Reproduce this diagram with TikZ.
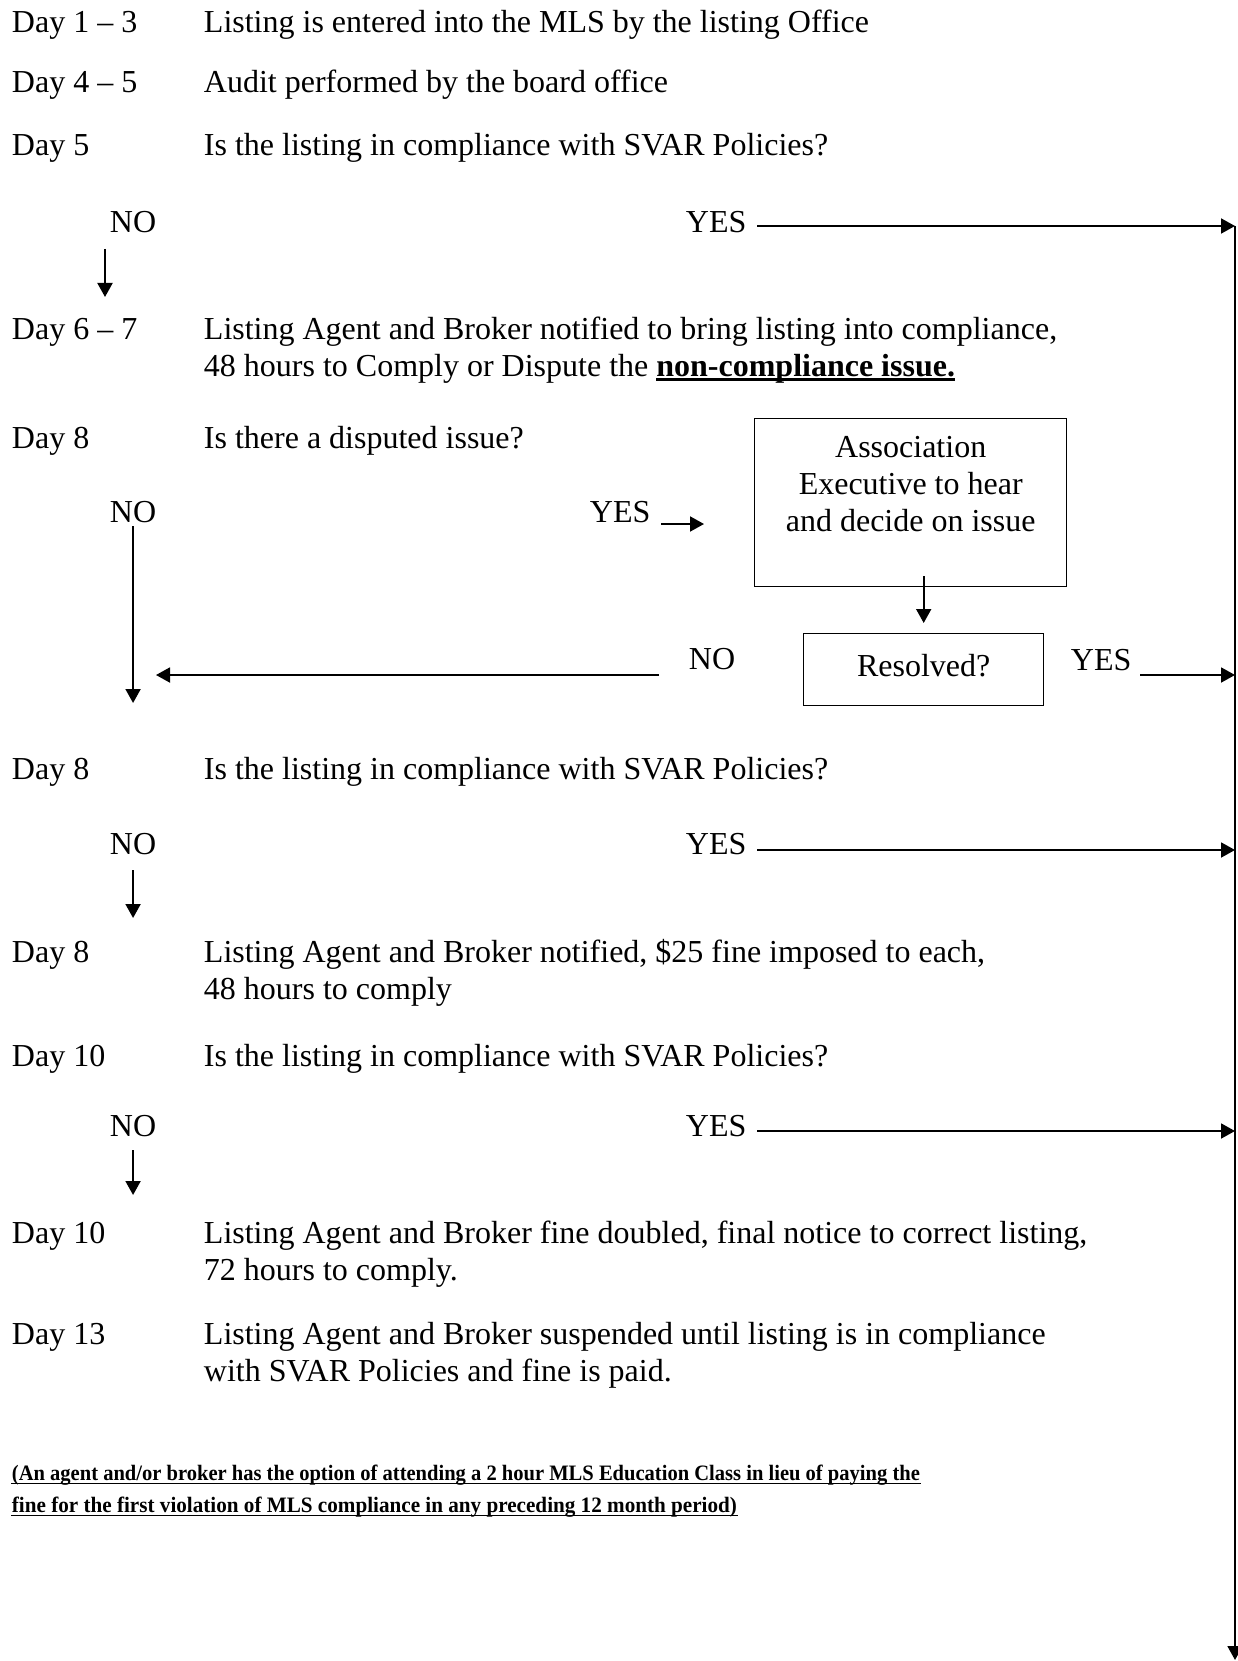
\documentclass[tikz,border=0pt]{standalone}
\usepackage{fontspec}
\setmainfont{Liberation Serif}
\usetikzlibrary{arrows.meta}

\newcommand{\ulbf}[1]{\setbox0\hbox{\bfseries #1}\rlap{\rule[-5pt]{\wd0}{2.6pt}}\box0}

\begin{document}
\begin{tikzpicture}[
        x=1pt, y=-1pt,
        line width=1.9pt,
        font=\fontsize{32}{37}\selectfont
    ]
    \tikzset{
        dayl/.style = {anchor=base west, inner sep=0},
        stept/.style = {anchor=base west, inner sep=0, align=left},
        steptwo/.style = {stept, yshift=-37pt},
        choice/.style = {anchor=base west, inner sep=0},
        procbox/.style = {draw, inner sep=0, line width=1.4pt},
        note/.style = {anchor=base west, inner sep=0, font=\bfseries\fontsize{22}{26}\selectfont},
        arr/.style = {-{Triangle[length=14pt,width=15pt]}},
    }
        \useasboundingbox (0,0) rectangle (1238,1661);
        \coordinate (rail) at (1235,0);
        \coordinate (railtop) at (1235,226);
        \coordinate (railbot) at (1235,1660);
        \coordinate (mergec) at (156,675);
        %
        \node[dayl] at (11,33) (d13) {Day 1 -- 3};
        \node[stept] at (203,33) (s13) {Listing is entered into the MLS by the listing Office};
        \node[dayl] at (11,93) (d45) {Day 4 -- 5};
        \node[stept] at (203,93) (s45) {Audit performed by the board office};
        \node[dayl] at (11,156) (d5) {Day 5};
        \node[stept] at (203,156) (s5) {Is the listing in compliance with SVAR Policies?};
        \node[choice] at (109,233) (noa) {NO};
        \node[choice] at (685,233) (yesa) {YES};
        %
        \node[dayl] at (11,339) (d67) {Day 6 -- 7};
        \node[steptwo] at (203,339) (s67) {Listing Agent and Broker notified to bring listing into compliance,\\48 hours to Comply or Dispute the \ulbf{non-compliance issue.}};
        \node[dayl] at (11,448) (d8a) {Day 8};
        \node[stept] at (203,448) (s8a) {Is there a disputed issue?};
        \node[choice] at (109,522) (nob) {NO};
        \node[choice] at (589,522) (yesb) {YES};
        \node[procbox, anchor=north west] at (754,418) (assoc)
            {\parbox[b][168pt][t]{312pt}{\centering\rule{0pt}{39pt}Association\\Executive to hear\\and decide on issue}};
        \node[procbox, anchor=north west, minimum width=240pt, text height=43pt, text depth=29pt] at (803,633) (resolved) {Resolved?};
        \node[choice] at (688,669) (noc) {NO};
        \node[choice] at (1070,670) (yesc) {YES};
        %
        \node[dayl] at (11,779) (d8b) {Day 8};
        \node[stept] at (203,779) (s8b) {Is the listing in compliance with SVAR Policies?};
        \node[choice] at (109,854) (nod) {NO};
        \node[choice] at (685,854) (yesd) {YES};
        \node[dayl] at (11,962) (d8c) {Day 8};
        \node[steptwo] at (203,962) (s8c) {Listing Agent and Broker notified, \$25 fine imposed to each,\\48 hours to comply};
        \node[dayl] at (11,1066) (d10a) {Day 10};
        \node[stept] at (203,1066) (s10a) {Is the listing in compliance with SVAR Policies?};
        \node[choice] at (109,1136) (noe) {NO};
        \node[choice] at (685,1136) (yese) {YES};
        \node[dayl] at (11,1243) (d10b) {Day 10};
        \node[steptwo] at (203,1243) (s10b) {Listing Agent and Broker fine doubled, final notice to correct listing,\\72 hours to comply.};
        \node[dayl] at (11,1344) (d13b) {Day 13};
        \node[steptwo] at (203,1344) (s13b) {Listing Agent and Broker suspended until listing is in compliance\\with SVAR Policies and fine is paid.};
        %
        \node[note] at (11,1480) (fn1) {\resizebox{908pt}{\height}{(An agent and/or broker has the option of attending a 2 hour MLS Education Class in lieu of paying the}};
        \node[note] at (11,1512) (fn2) {\resizebox{725pt}{\height}{fine for the first violation of MLS compliance in any preceding 12 month period)}};
        \draw[line width=1.8pt] ([yshift=-3.5pt]fn1.base west) -- ([yshift=-3.5pt]fn1.base east);
        \draw[line width=1.8pt] ([yshift=-3.5pt]fn2.base west) -- ([yshift=-3.5pt]fn2.base east);
        %
        \draw[arr] ([xshift=-4pt,yshift=-16pt]noa.base west) -- ([xshift=-4pt,yshift=-64pt]noa.base west);
        \draw[arr] ([xshift=10pt,yshift=7pt]yesa.base east) -- (railtop);
        \draw[arr] (railtop) -- (railbot);
        %
        \draw[arr] ([yshift=-4pt]nob.base) -- ([yshift=-181pt]nob.base);
        \draw[arr] ([xshift=10pt,yshift=-2pt]yesb.base east) -- ([xshift=-50pt,yshift=-2pt]yesb.base -| assoc.west);
        \draw[arr] ([yshift=11pt]assoc.south -| resolved.north) -- ([yshift=10pt]resolved.north);
        \draw[arr] ([xshift=-29pt,yshift=-6pt]noc.base west) -- (mergec);
        \draw[arr] ([xshift=8pt,yshift=-5pt]yesc.base east) -- ([yshift=-5pt]yesc.base -| rail);
        %
        \draw[arr] ([xshift=10pt,yshift=4pt]yesd.base east) -- ([yshift=4pt]yesd.base -| rail);
        \draw[arr] ([yshift=-16pt]nod.base) -- ([yshift=-64pt]nod.base);
        \draw[arr] ([xshift=10pt,yshift=5pt]yese.base east) -- ([yshift=5pt]yese.base -| rail);
        \draw[arr] ([yshift=-14pt]noe.base) -- ([yshift=-59pt]noe.base);
    \end{tikzpicture}
\end{document}
